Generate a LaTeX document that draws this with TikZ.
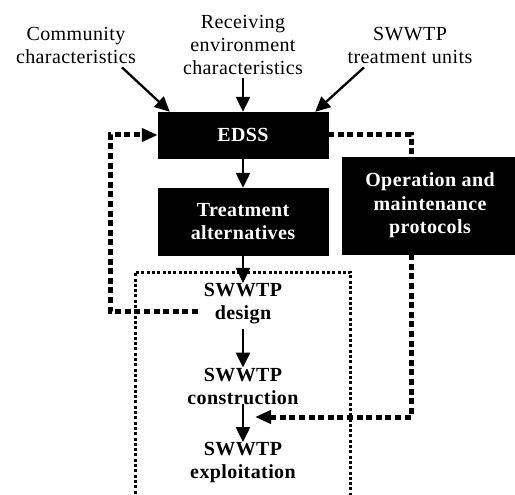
\documentclass[tikz,border=0pt]{standalone}
\usepackage{fontspec}
\setmainfont{Liberation Serif}[LetterSpace=2]
\usetikzlibrary{arrows.meta}
\begin{document}
\begin{tikzpicture}[x=1pt,y=-1pt,
  txt/.style={align=center,inner sep=0pt,font=\fontsize{20}{23}\selectfont},
  btxt/.style={align=center,inner sep=0pt,font=\fontsize{20}{23}\selectfont\bfseries},
  blackbox/.style={fill=black,draw=black,text=white,align=center,inner sep=0pt,font=\fontsize{20}{23.5}\selectfont\bfseries},
  arr/.style={line width=2.3pt,-{Triangle[length=15pt,width=14pt]}},
  loop/.style={line width=5pt,dash pattern=on 6pt off 3.6pt},
  darr/.style={loop,-{Triangle[length=16pt,width=13pt]}},
  dotbox/.style={line width=3pt,dash pattern=on 3pt off 2.3pt}]
\useasboundingbox (0,0) rectangle (515,495);
% input texts
\node[txt] (comm) at (76,45) {Community\\characteristics};
\node[txt] (recv) at (243,44.5) {Receiving\\environment\\characteristics};
\node[txt] (swu) at (410,45) {SWWTP\\treatment units};
% boxes
\node[blackbox,minimum width=170pt,minimum height=46pt] (edss) at (243,135) {EDSS};
\node[blackbox,minimum width=170pt,minimum height=67pt] (treat) at (243,221.5) {Treatment\\alternatives};
\node[blackbox,minimum width=176pt,minimum height=97pt] (ops) at (430,205.5) {Operation and\\maintenance\\protocols};
% stages
\node[btxt] (design) at (243,303.5) {SWWTP\\design};
\node[btxt] (constr) at (243,386) {SWWTP\\construction};
\node[btxt] (exploit) at (243,462.5) {SWWTP\\exploitation};
% dotted frame
\coordinate (fbl) at (135,520);
\coordinate (ftl) at (135,272);
\coordinate (ftr) at (350,272);
\coordinate (fbr) at (350,520);
\draw[dotbox] (fbl) -- (ftl) -- (ftr) -- (fbr);
% solid arrows
\draw[arr] ([xshift=46pt,yshift=-4pt]comm.south) -- ([xshift=12pt]edss.north west);
\draw[arr] ([yshift=-4pt]recv.south) -- (edss.north);
\draw[arr] ([xshift=-46pt,yshift=-4pt]swu.south) -- ([xshift=-13pt]edss.north east);
\draw[arr] (edss) -- (treat);
\draw[arr] (treat) -- (design.north);
\draw[arr] ([yshift=-5pt]design.south) -- (constr.north);
\draw[arr] (constr.south) -- (exploit.north);
% feedback loops
\coordinate (lstart) at (198,311);
\coordinate (lcorner) at (110,311);
\draw[darr] (lstart) -- (lcorner) |- (edss.west);
\coordinate (rc) at (411,135);
\draw[loop] (edss.east) -- (rc) -- (rc |- ops.north);
\coordinate (rend) at (255,417);
\draw[darr] (ops.south -| rc) |- (rend);
\end{tikzpicture}
\end{document}
